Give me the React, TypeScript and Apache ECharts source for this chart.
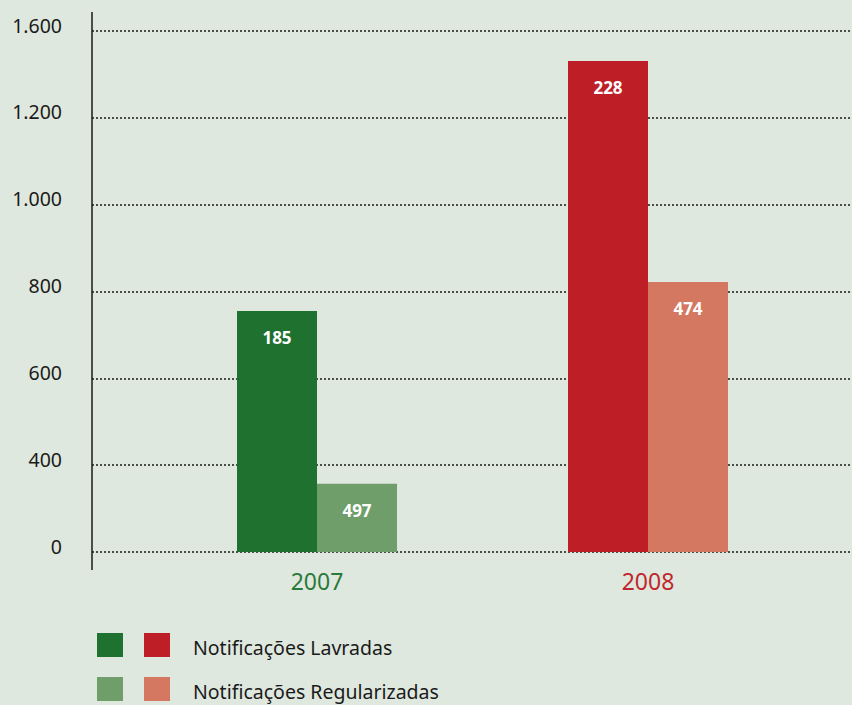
import React, { useEffect, useRef } from "react";
import * as echarts from "echarts";

const categories = ["2007", "2008"];
const categoryColors = ["#2a7a3a", "#c0272d"];
const tickLabels = ["0", "400", "600", "800", "1.000", "1.200", "1.600"];
const lavradasValues = [555, 1131];
const lavradasLabels = ["185", "228"];
const lavradasColors = ["#1e712f", "#be1e25"];
const regularizadasValues = [157, 622];
const regularizadasLabels = ["497", "474"];
const regularizadasColors = ["#709e6b", "#d47862"];
const legendNames = ["Notificações Lavradas", "Notificações Regularizadas"];

const FONT = "'Noto Sans', 'DejaVu Sans', sans-serif";

export default function App() {
  const ref = useRef<HTMLDivElement>(null);
  useEffect(() => {
    if (!ref.current) return;
    const chart = echarts.init(ref.current, null, { renderer: "svg" });
    const mk = (vals: number[], labels: string[], colors: string[]) =>
      vals.map((v, i) => ({
        value: v,
        itemStyle: { color: colors[i] },
        label: { formatter: labels[i] },
      }));
    const labelStyle = {
      show: true,
      position: "insideTop",
      distance: 18,
      color: "#ffffff",
      fontWeight: "bold",
      fontSize: 17,
      fontFamily: FONT,
    };
    chart.setOption({
      animation: false,
      backgroundColor: "#dfe8de",
      grid: [
        { left: 92, right: 0, top: 31, bottom: 153 },
        { left: 151.5, right: 38.5, top: 31, bottom: 153 },
      ],
      xAxis: [
        { type: "category", gridIndex: 0, data: categories, show: false },
        {
          type: "category",
          gridIndex: 1,
          data: categories,
          axisLine: { show: false },
          axisTick: { show: false },
          axisLabel: {
            margin: 17,
            fontSize: 23,
            fontFamily: FONT,
            color: (_v: string, i: number) => categoryColors[i],
          },
        },
      ],
      yAxis: [
        {
          type: "value",
          gridIndex: 0,
          min: 0,
          max: 1200,
          interval: 200,
          axisLine: { show: false },
          axisTick: { show: false },
          axisLabel: {
            margin: 30,
            fontSize: 19.5,
            fontFamily: FONT,
            color: "#1a1a1a",
            verticalAlign: "bottom",
            lineHeight: 12,
            formatter: (v: number) => tickLabels[Math.round(v / 200)] ?? "",
          },
          splitLine: {
            show: true,
            lineStyle: { color: "#1a1a1a", type: [2, 2], width: 1.5 },
          },
        },
        {
          type: "value",
          gridIndex: 1,
          min: 0,
          max: 1200,
          interval: 200,
          show: false,
          splitLine: { show: false },
        },
      ],
      series: [
        {
          type: "bar",
          name: legendNames[0],
          xAxisIndex: 1,
          yAxisIndex: 1,
          barWidth: 80,
          barGap: "0%",
          data: mk(lavradasValues, lavradasLabels, lavradasColors),
          label: labelStyle,
          z: 3,
        },
        {
          type: "bar",
          name: legendNames[1],
          xAxisIndex: 1,
          yAxisIndex: 1,
          barWidth: 80,
          barGap: "0%",
          data: mk(regularizadasValues, regularizadasLabels, regularizadasColors),
          label: labelStyle,
          z: 3,
        },
      ],
      graphic: [
        {
          type: "line",
          shape: { x1: 92, y1: 12, x2: 92, y2: 570 },
          style: { stroke: "#1a1a1a", lineWidth: 1.5 },
          z: 10,
        },
        { type: "rect", shape: { x: 97, y: 633, width: 26, height: 24 }, style: { fill: lavradasColors[0] } },
        { type: "rect", shape: { x: 144, y: 633, width: 26, height: 24 }, style: { fill: lavradasColors[1] } },
        { type: "rect", shape: { x: 97, y: 677, width: 26, height: 24 }, style: { fill: regularizadasColors[0] } },
        { type: "rect", shape: { x: 144, y: 677, width: 26, height: 24 }, style: { fill: regularizadasColors[1] } },
        {
          type: "text",
          x: 193,
          y: 647,
          style: { text: legendNames[0], fontSize: 19.5, fontFamily: FONT, fill: "#1a1a1a", verticalAlign: "middle" },
        },
        {
          type: "text",
          x: 193,
          y: 691,
          style: { text: legendNames[1], fontSize: 19.5, fontFamily: FONT, fill: "#1a1a1a", verticalAlign: "middle" },
        },
      ],
    });
    return () => chart.dispose();
  }, []);
  return <div ref={ref} style={{ width: 852, height: 705, position: "fixed", left: 0, top: 0 }} />;
}
